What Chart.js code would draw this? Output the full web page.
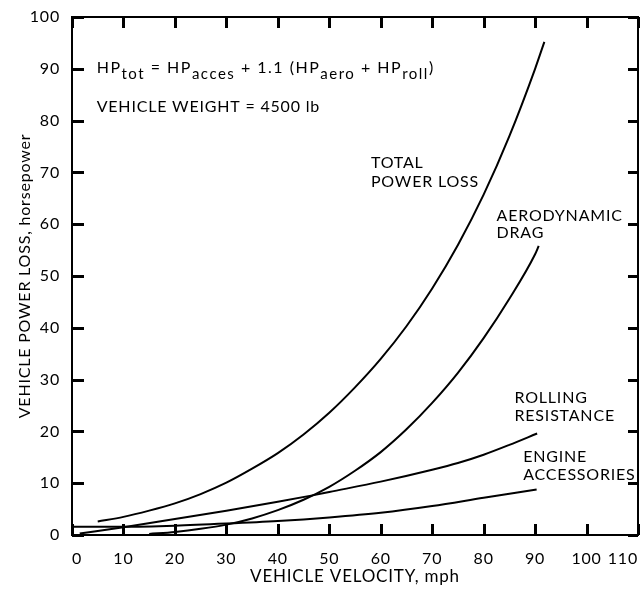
<!DOCTYPE html>
<html>
<head>
<meta charset="utf-8">
<script src="https://cdn.jsdelivr.net/npm/chart.js@4"></script>
<style>
  html, body { margin: 0; padding: 0; background: #fff; }
</style>
</head>
<body>
<canvas id="powerChart" width="644" height="593"></canvas>
<script>
// values (mph -> horsepower)
const totalX = [5, 10, 15, 20, 25, 30, 35, 40, 45, 50, 55, 60, 65, 70, 75, 80, 85, 90, 91.8];
const totalY = [2.6, 3.5, 4.7, 6.1, 7.9, 10.1, 12.8, 15.8, 19.4, 23.6, 28.5, 34.0, 40.3, 47.6, 56.0, 65.7, 77.0, 90.0, 95.2];

const aeroX = [15, 20, 25, 30, 35, 40, 45, 50, 55, 60, 65, 70, 75, 80, 85, 90, 90.7];
const aeroY = [0.2, 0.6, 1.2, 2.0, 3.2, 4.8, 6.8, 9.3, 12.4, 16.0, 20.4, 25.5, 31.3, 38.0, 45.6, 54.2, 55.8];

const rollX = [1.5, 10, 20, 30, 40, 47, 50, 60, 70, 75, 80, 85, 90.4];
const rollY = [0.3, 1.5, 3.1, 4.7, 6.4, 7.7, 8.3, 10.3, 12.6, 13.9, 15.5, 17.4, 19.6];

const accX = [0, 10, 20, 30, 40, 50, 60, 70, 80, 90.3];
const accY = [1.6, 1.6, 1.8, 2.2, 2.7, 3.4, 4.3, 5.6, 7.2, 8.8];

const xTicks = [0, 10, 20, 30, 40, 50, 60, 70, 80, 90, 100, 110];
const yTicks = [0, 10, 20, 30, 40, 50, 60, 70, 80, 90, 100];

// curve labels, anchored in data units
const curveLabels = [
  { x: 58.1, y: 71.8, text: 'TOTAL' },
  { x: 58.1, y: 68.1, text: 'POWER LOSS' },
  { x: 82.5, y: 61.7, text: 'AERODYNAMIC' },
  { x: 82.5, y: 58.4, text: 'DRAG' },
  { x: 86.0, y: 26.4, text: 'ROLLING' },
  { x: 86.0, y: 23.0, text: 'RESISTANCE' },
  { x: 87.7, y: 15.1, text: 'ENGINE' },
  { x: 87.7, y: 11.6, text: 'ACCESSORIES' }
];

const formula = [
  { t: 'HP' }, { t: 'tot', sub: true },
  { t: ' = HP' }, { t: 'acces', sub: true },
  { t: ' + 1.1 (HP' }, { t: 'aero', sub: true },
  { t: ' + HP' }, { t: 'roll', sub: true },
  { t: ')' }
];

const FONT = 'Lato, "DejaVu Sans", sans-serif';

const pts = (xs, ys) => xs.map((v, i) => ({ x: v, y: ys[i] }));

const curve = (label, xs, ys) => ({
  label,
  data: pts(xs, ys),
  borderColor: '#000',
  borderWidth: 2,
  pointRadius: 0,
  fill: false,
  cubicInterpolationMode: 'monotone'
});

// box round the plot, inward ticks and the text notes
const frameAndNotes = {
  id: 'frameAndNotes',
  beforeDraw(chart) {
    chart.ctx.letterSpacing = '0.8px';
  },
  afterDraw(chart) {
    const { ctx, chartArea: { left, right, top, bottom }, scales: { x, y } } = chart;
    ctx.save();
    ctx.fillStyle = '#000';

    // frame
    ctx.fillRect(left - 1, top - 1, right - left + 2, 2);
    ctx.fillRect(left - 1, bottom - 1, right - left + 2, 2);
    ctx.fillRect(left - 1, top - 1, 2, bottom - top + 2);
    ctx.fillRect(right - 1, top - 1, 2, bottom - top + 2);

    // inward tick marks on all four sides
    xTicks.forEach(v => {
      const px = Math.round(x.getPixelForValue(v));
      ctx.fillRect(px - 1, bottom - 11, 3, 11);
      ctx.fillRect(px - 1, top, 3, 11);
    });
    yTicks.forEach(v => {
      const py = Math.round(y.getPixelForValue(v));
      ctx.fillRect(left, py - 1, 12, 3);
      ctx.fillRect(right - 10, py - 1, 10, 3);
    });

    ctx.textBaseline = 'middle';
    ctx.textAlign = 'left';

    // formula line with subscripts
    ctx.letterSpacing = '1.5px';
    let fx = x.getPixelForValue(4.8);
    const fy = y.getPixelForValue(90.2);
    formula.forEach(s => {
      ctx.font = (s.sub ? '15px ' : '16px ') + FONT;
      ctx.fillText(s.t, fx, s.sub ? fy + 6 : fy);
      fx += ctx.measureText(s.t).width;
    });

    ctx.letterSpacing = '0.8px';
    ctx.font = '16px ' + FONT;
    ctx.fillText('VEHICLE WEIGHT = 4500 lb', x.getPixelForValue(4.8), y.getPixelForValue(82.6));

    curveLabels.forEach(l => {
      ctx.fillText(l.text, x.getPixelForValue(l.x), y.getPixelForValue(l.y));
    });
    ctx.restore();
  }
};

new Chart(document.getElementById('powerChart'), {
  type: 'line',
  data: {
    datasets: [
      curve('Total power loss', totalX, totalY),
      curve('Aerodynamic drag', aeroX, aeroY),
      curve('Rolling resistance', rollX, rollY),
      curve('Engine accessories', accX, accY)
    ]
  },
  options: {
    responsive: false,
    animation: false,
    layout: { padding: { top: 17, right: 2, left: 0, bottom: 0 } },
    plugins: {
      legend: { display: false },
      tooltip: { enabled: false }
    },
    scales: {
      x: {
        type: 'linear',
        min: 0,
        max: 110,
        afterBuildTicks: s => { s.ticks = xTicks.map(v => ({ value: v })); },
        afterFit: s => { s.height = 58; },
        grid: { display: false },
        border: { display: false },
        ticks: {
          color: '#000',
          font: { family: FONT, size: 16 },
          padding: 6,
          align: 'inner',
          maxRotation: 0,
          autoSkip: false
        },
        title: {
          display: true,
          text: 'VEHICLE VELOCITY, mph',
          color: '#000',
          font: { family: FONT, size: 17 },
          padding: { top: 0, bottom: 6 }
        }
      },
      y: {
        min: 0,
        max: 100,
        afterBuildTicks: s => { s.ticks = yTicks.map(v => ({ value: v })); },
        afterFit: s => { s.width = 72; },
        grid: { display: false },
        border: { display: false },
        ticks: {
          color: '#000',
          font: { family: FONT, size: 16 },
          padding: 4
        },
        title: {
          display: true,
          text: 'VEHICLE POWER LOSS, horsepower',
          color: '#000',
          font: { family: FONT, size: 16 },
          padding: { top: 15, bottom: 0 }
        }
      }
    }
  },
  plugins: [frameAndNotes]
});
</script>
</body>
</html>
